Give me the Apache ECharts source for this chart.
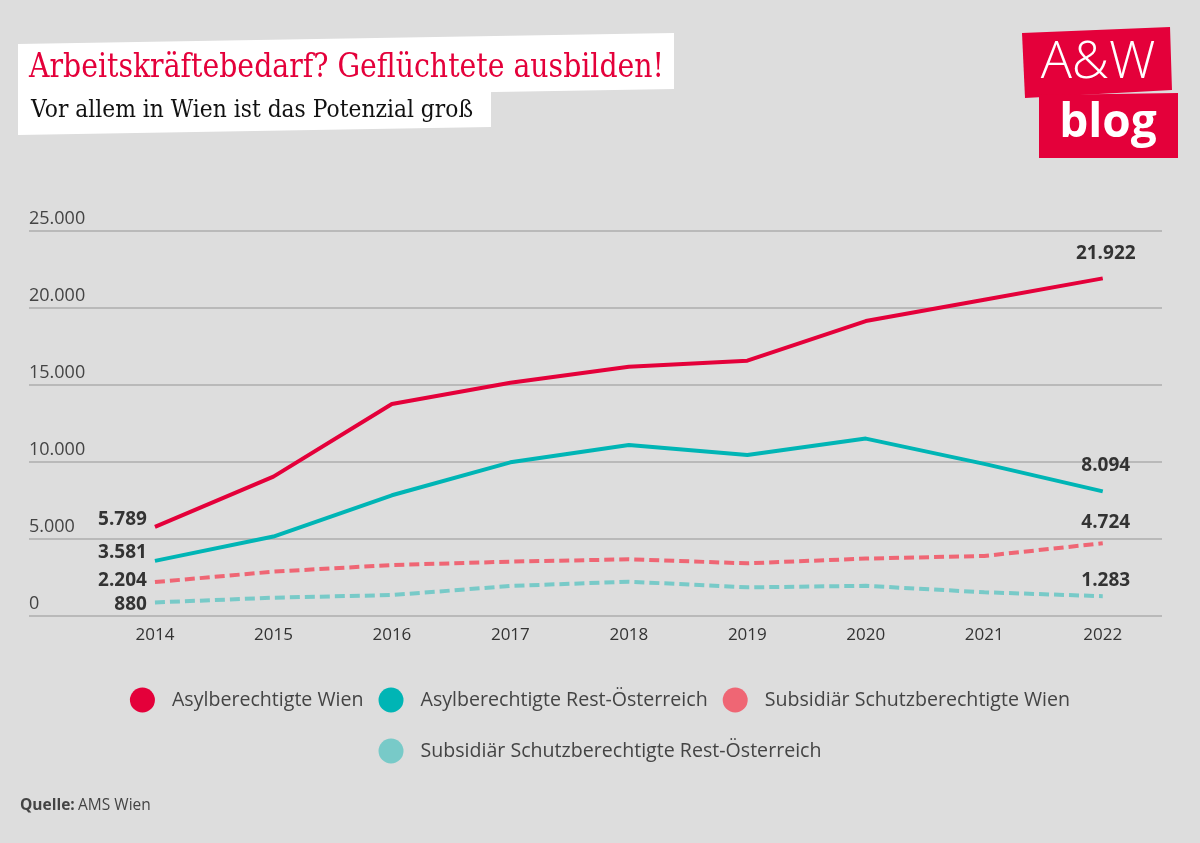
<!DOCTYPE html>
<html>
<head>
<meta charset="utf-8">
<script src="https://cdn.jsdelivr.net/npm/echarts@6/dist/echarts.min.js"></script>
<style>
html,body{margin:0;padding:0;background:#dddddd;}
#chart{width:1200px;height:843px;}
</style>
</head>
<body>
<div id="chart"></div>
<script>
// ---- data ----
var years = [2014, 2015, 2016, 2017, 2018, 2019, 2020, 2021, 2022];
var seriesNames = [
  'Asylberechtigte Wien',
  'Asylberechtigte Rest-Österreich',
  'Subsidiär Schutzberechtigte Wien',
  'Subsidiär Schutzberechtigte Rest-Österreich'
];
var asylWien = [5789, 9050, 13770, 15150, 16190, 16580, 19150, 20540, 21922];
var asylRest = [3581, 5160, 7840, 9980, 11100, 10450, 11520, 9880, 8094];
var subsWien = [2204, 2880, 3310, 3530, 3680, 3420, 3730, 3900, 4724];
var subsRest = [880, 1190, 1360, 1950, 2230, 1860, 1960, 1540, 1283];

var title = 'Arbeitskräftebedarf? Geflüchtete ausbilden!';
var subtitle = 'Vor allem in Wien ist das Potenzial groß';
var source = 'AMS Wien';

// ---- styling ----
var colors = ['#e4003a', '#00b5b5', '#ef6674', '#78cac8'];
var dashed = [false, false, true, true];
var firstLabelOffset = [[0, -7], [0, -8], [0, -1], [0, 2]];
var lastLabelDist = [15, 16, 11, 6];

function fmt(v) {
  return String(v).replace(/\B(?=(\d{3})+(?!\d))/g, '.');
}

// fit a text to a target width by horizontal scaling
var measureCtx = document.createElement('canvas').getContext('2d');
function fitScale(text, font, targetWidth) {
  measureCtx.font = font;
  var w = measureCtx.measureText(text).width;
  return w > 0 ? targetWidth / w : 1;
}
var titleFont = '34px "DejaVu Serif"';
var subFont = '24px "DejaVu Serif"';
var titleScale = fitScale(title, titleFont, 635);
var subScale = fitScale(subtitle, subFont, 442);

var valueSets = [asylWien, asylRest, subsWien, subsRest];
var labelFont = {fontFamily: 'Open Sans', fontWeight: 'bold', fontSize: 19, color: '#333'};

var series = valueSets.map(function (vals, si) {
  var data = vals.map(function (v, i) {
    var d = {value: [years[i], v]};
    if (i === 0) {
      d.label = Object.assign({show: true, position: 'left', distance: 8,
        offset: firstLabelOffset[si], formatter: function (p) { return fmt(p.value[1]); }}, labelFont);
    } else if (i === vals.length - 1) {
      d.label = Object.assign({show: true, position: 'top', distance: lastLabelDist[si],
        offset: [3, 0], formatter: function (p) { return fmt(p.value[1]); }}, labelFont);
    }
    return d;
  });
  return {
    name: seriesNames[si],
    type: 'line',
    data: data,
    color: colors[si],
    symbol: 'circle',
    symbolSize: 0,
    showSymbol: true,
    lineStyle: {width: 4, color: colors[si], type: dashed[si] ? [10, 5] : 'solid', cap: 'butt'},
    itemStyle: {color: colors[si]},
    label: {show: false},
    emphasis: {disabled: true},
    animation: false,
    z: 10 - si
  };
});

var legendBase = {
  left: 'center',
  icon: 'circle',
  itemWidth: 25,
  itemHeight: 25,
  itemGap: 15,
  itemStyle: {borderWidth: 0},
  textStyle: {color: '#444', fontFamily: 'Open Sans', fontSize: 19.6, padding: [0, 0, 0, 12], lineHeight: 36},
  selectedMode: false
};

var chart = echarts.init(document.getElementById('chart'), null, {renderer: 'canvas'});
chart.setOption({
  backgroundColor: '#dddddd',
  animation: false,
  grid: {left: 29, right: 38, top: 231, bottom: 227, containLabel: false},
  xAxis: {
    type: 'value',
    min: 2012.937,
    max: 2022.5,
    axisLine: {show: false},
    axisTick: {show: false},
    splitLine: {show: false},
    axisLabel: {
      customValues: years,
      formatter: function (v) { return String(v); },
      color: '#333', fontFamily: 'Open Sans', fontSize: 17, margin: 11
    }
  },
  yAxis: {
    type: 'value',
    min: 0, max: 25000, interval: 5000,
    axisLine: {show: false},
    axisTick: {show: false},
    splitLine: {show: true, lineStyle: {color: '#b9b9b9', width: 2}},
    axisLabel: {
      inside: true,
      align: 'left',
      verticalAlign: 'bottom',
      margin: 0,
      padding: [0, 0, 3, 0],
      color: '#444', fontFamily: 'Open Sans', fontSize: 18,
      formatter: function (v) { return fmt(v); }
    }
  },
  legend: [
    Object.assign({}, legendBase, {data: seriesNames.slice(0, 3), top: 677}),
    Object.assign({}, legendBase, {data: seriesNames.slice(3), top: 728})
  ],
  series: series,
  graphic: [
    {type: 'polygon', shape: {points: [[18, 44], [674, 33], [674, 89], [18, 100]]}, style: {fill: '#ffffff'}, silent: true},
    {type: 'polygon', shape: {points: [[18, 98], [491, 90], [491, 127], [18, 135]]}, style: {fill: '#ffffff'}, silent: true},
    {type: 'text', x: 29, y: 51, scaleX: titleScale, style: {text: title, fill: '#e4003a', font: titleFont, verticalAlign: 'top'}},
    {type: 'text', x: 31, y: 99, scaleX: subScale, style: {text: subtitle, fill: '#111111', font: subFont, verticalAlign: 'top'}},
    {type: 'polygon', shape: {points: [[1022, 33], [1170, 27], [1172, 90], [1025, 98]]}, style: {fill: '#e4003a'}, silent: true},
    {type: 'polygon', shape: {points: [[1039, 95], [1178, 93], [1178, 158], [1039, 158]]}, style: {fill: '#e4003a'}, silent: true},
    {type: 'text', x: 1098, y: 63, style: {text: 'A&W', fill: '#ffffff', font: '300 52px "Open Sans"', align: 'center', verticalAlign: 'middle'}},
    {type: 'text', x: 1108, y: 124, style: {text: 'blog', fill: '#ffffff', font: 'bold 46px "Open Sans"', align: 'center', verticalAlign: 'middle'}},
    {type: 'text', left: 20, top: 798, style: {
      text: '{b|Quelle:} {n|' + source + '}',
      rich: {
        b: {fontFamily: 'Open Sans', fontWeight: 'bold', fontSize: 15.5, fill: '#444'},
        n: {fontFamily: 'Open Sans', fontSize: 15.5, fill: '#444'}
      }
    }}
  ]
});
</script>
</body>
</html>
